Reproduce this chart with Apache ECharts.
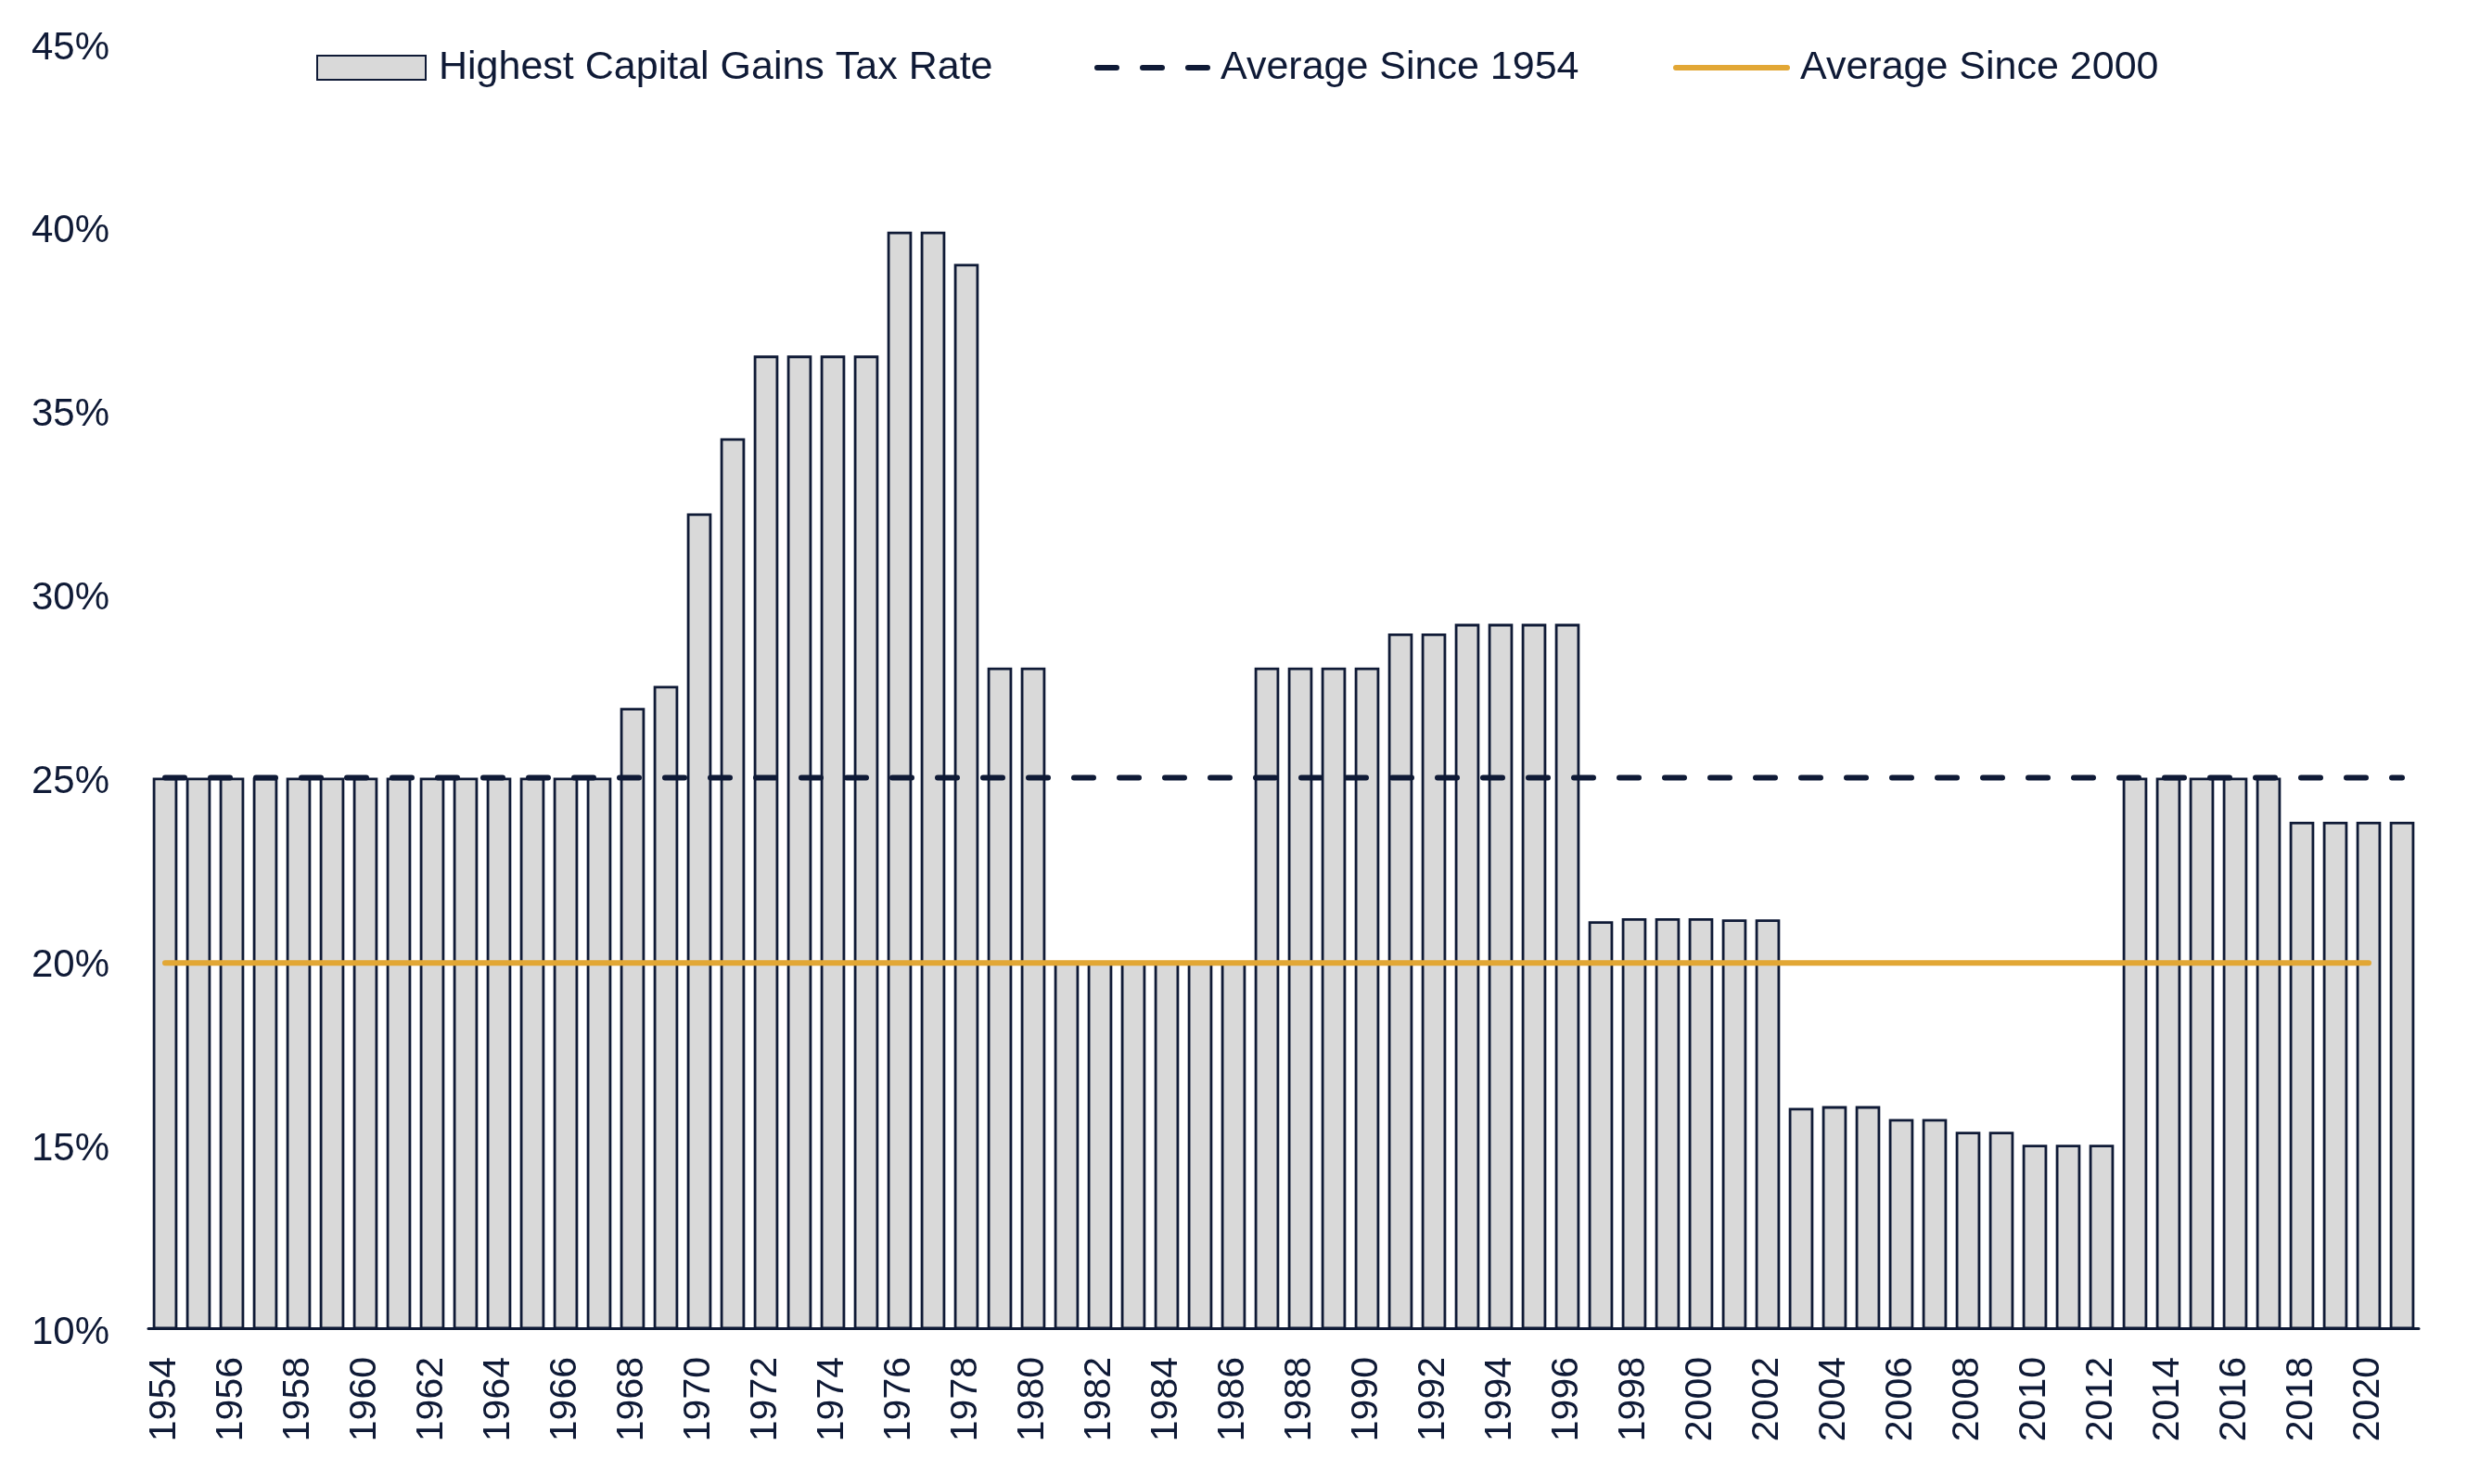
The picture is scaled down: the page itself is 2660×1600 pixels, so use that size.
<!DOCTYPE html>
<html>
<head>
<meta charset="utf-8">
<script src="https://cdn.jsdelivr.net/npm/echarts@6/dist/echarts.min.js"></script>
<style>
    html, body { margin: 0; padding: 0; background: #fff; }
    #chart { width: 2660px; height: 1600px; }
</style>
</head>
<body>
<div id="chart"></div>
<script>
// years shown on the category axis
const years = [
    "1954", "1955", "1956", "1957", "1958", "1959", "1960", "1961", "1962", "1963",
    "1964", "1965", "1966", "1967", "1968", "1969", "1970", "1971", "1972", "1973",
    "1974", "1975", "1976", "1977", "1978", "1979", "1980", "1981", "1982", "1983",
    "1984", "1985", "1986", "1987", "1988", "1989", "1990", "1991", "1992", "1993",
    "1994", "1995", "1996", "1997", "1998", "1999", "2000", "2001", "2002", "2003",
    "2004", "2005", "2006", "2007", "2008", "2009", "2010", "2011", "2012", "2013",
    "2014", "2015", "2016", "2017", "2018", "2019", "2020", "2021"
];

// highest capital gains tax rate, %
const topRate = [
    25, 25, 25, 25, 25, 25, 25, 25, 25, 25,
    25, 25, 25, 25, 26.9, 27.5, 32.2, 34.25, 36.5, 36.5,
    36.5, 36.5, 39.875, 39.875, 39.0, 28, 28, 20, 20, 20,
    20, 20, 20, 28, 28, 28, 28, 28.93, 28.93, 29.19,
    29.19, 29.19, 29.19, 21.09, 21.17, 21.17, 21.17, 21.14, 21.14, 16.0,
    16.05, 16.05, 15.7, 15.7, 15.35, 15.35, 15.0, 15.0, 15.0, 25,
    25, 25, 25, 25, 23.8, 23.8, 23.8, 23.8
];

// averages, drawn as flat lines across the years they cover
const avgSince1954 = [
    25, 25, 25, 25, 25, 25, 25, 25, 25, 25,
    25, 25, 25, 25, 25, 25, 25, 25, 25, 25,
    25, 25, 25, 25, 25, 25, 25, 25, 25, 25,
    25, 25, 25, 25, 25, 25, 25, 25, 25, 25,
    25, 25, 25, 25, 25, 25, 25, 25, 25, 25,
    25, 25, 25, 25, 25, 25, 25, 25, 25, 25,
    25, 25, 25, 25, 25, 25, 25, 25
];
const avgSince2000 = [
    19.95, 19.95, 19.95, 19.95, 19.95, 19.95, 19.95, 19.95, 19.95, 19.95,
    19.95, 19.95, 19.95, 19.95, 19.95, 19.95, 19.95, 19.95, 19.95, 19.95,
    19.95, 19.95, 19.95, 19.95, 19.95, 19.95, 19.95, 19.95, 19.95, 19.95,
    19.95, 19.95, 19.95, 19.95, 19.95, 19.95, 19.95, 19.95, 19.95, 19.95,
    19.95, 19.95, 19.95, 19.95, 19.95, 19.95, 19.95, 19.95, 19.95, 19.95,
    19.95, 19.95, 19.95, 19.95, 19.95, 19.95, 19.95, 19.95, 19.95, 19.95,
    19.95, 19.95, 19.95, 19.95, 19.95, 19.95, 19.95, null
];

const yTicks = { min: 10, max: 45, step: 5 };

const navy = "#0f1a36";
const gold = "#e2a735";
const font = "Liberation Sans";

const chart = echarts.init(document.getElementById("chart"));

const legendText = {
    color: navy,
    fontFamily: font,
    fontSize: 43,
    lineHeight: 44
};

chart.setOption({
    animation: false,
    backgroundColor: "#fff",
    grid: { left: 160, right: 52, top: 47, bottom: 168 },
    legend: [
        {
            data: ["Highest Capital Gains Tax Rate"],
            left: 336, top: 46,
            icon: "rect",
            itemWidth: 117, itemHeight: 26,
            textStyle: Object.assign({ padding: [0, 0, 0, 9] }, legendText)
        },
        {
            data: ["Average Since 1954"],
            left: 1175, top: 46,
            itemWidth: 122, itemHeight: 26,
            lineStyle: { width: 6 },
            itemStyle: { opacity: 0 },   // line only, no marker dot
            textStyle: Object.assign({ padding: [0, 0, 0, 6] }, legendText)
        },
        {
            data: ["Average Since 2000"],
            left: 1799, top: 46,
            itemWidth: 120, itemHeight: 26,
            lineStyle: { width: 6 },
            itemStyle: { opacity: 0 },
            textStyle: Object.assign({ padding: [0, 0, 0, 9] }, legendText)
        }
    ],
    xAxis: {
        type: "category",
        data: years,
        axisLine: { show: true, lineStyle: { color: navy, width: 3 } },
        axisTick: { show: false },
        axisLabel: {
            interval: 1,
            rotate: 90,
            margin: 31,
            color: navy,
            fontFamily: font,
            fontSize: 41
        }
    },
    yAxis: {
        type: "value",
        min: yTicks.min,
        max: yTicks.max,
        interval: yTicks.step,
        axisLine: { show: false },
        axisTick: { show: false },
        splitLine: { show: false },
        axisLabel: {
            margin: 42,
            formatter: "{t|{value}%}",
            rich: {
                t: {
                    padding: [10, 0, 0, 0],
                    color: navy,
                    fontFamily: font,
                    fontSize: 42
                }
            }
        }
    },
    series: [
        {
            name: "Highest Capital Gains Tax Rate",
            type: "bar",
            data: topRate,
            barWidth: "74%",
            itemStyle: { color: "#d9d9d9", borderColor: navy, borderWidth: 2.8 }
        },
        {
            name: "Average Since 1954",
            type: "line",
            data: avgSince1954,
            symbol: "none",
            z: 5,
            lineStyle: { color: navy, width: 6, type: [21, 28], cap: "round" },
            itemStyle: { color: navy }
        },
        {
            name: "Average Since 2000",
            type: "line",
            data: avgSince2000,
            symbol: "none",
            z: 6,
            lineStyle: { color: gold, width: 6, cap: "round" },
            itemStyle: { color: gold }
        }
    ]
});
</script>
</body>
</html>
